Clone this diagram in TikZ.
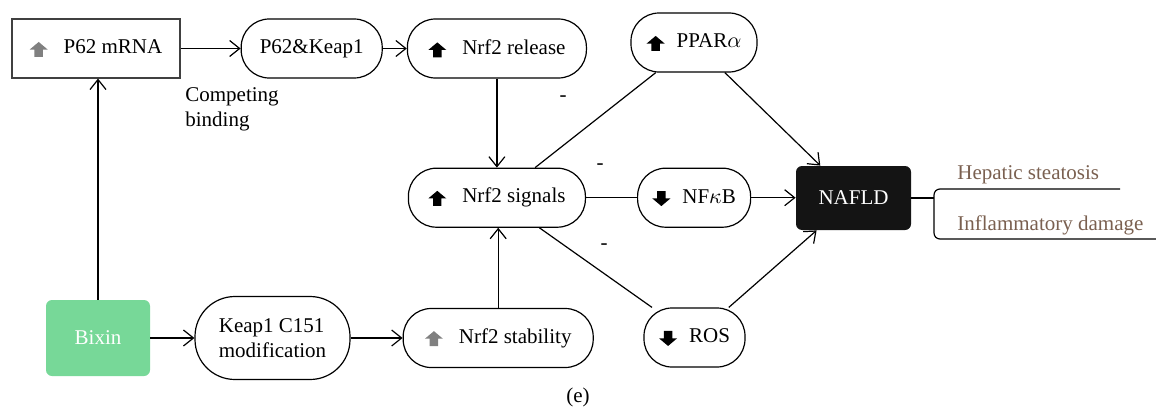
\documentclass[tikz,border=0pt]{standalone}
\usepackage{fontspec}
\setmainfont{Liberation Serif}
\usepackage{tikz}
\usetikzlibrary{arrows.meta, positioning, calc}
\definecolor{bixingreen}{RGB}{119,216,152}
\definecolor{outcomebrown}{RGB}{122,96,80}
\definecolor{icongray}{RGB}{128,128,128}
\newcommand{\upicon}[1][black]{\tikz[baseline=1.5pt]\fill[#1, sharp corners] (-2.1pt,0pt) -- (-2.1pt,3.7pt) -- (-4.5pt,3.7pt) -- (0pt,7.5pt) -- (4.5pt,3.7pt) -- (2.1pt,3.7pt) -- (2.1pt,0pt) -- cycle;}
\newcommand{\downicon}[1][black]{\tikz[baseline=1.5pt]\fill[#1, sharp corners] (-2.1pt,7.5pt) -- (-2.1pt,3.8pt) -- (-4.5pt,3.8pt) -- (0pt,0pt) -- (4.5pt,3.8pt) -- (2.1pt,3.8pt) -- (2.1pt,7.5pt) -- cycle;}
\tikzset{
  pill/.style={rectangle, rounded corners=14pt, draw, line width=0.6pt, minimum height=29.5pt, text centered, inner sep=2pt}, % rounded boxes
  plainbox/.style={rectangle, draw=black!75, line width=0.6pt, minimum width=84pt, minimum height=29.5pt},
  drugbox/.style={rectangle, rounded corners=3pt, fill=bixingreen, text=white, minimum width=52pt, minimum height=38pt},
  diseasebox/.style={rectangle, rounded corners=3pt, fill=black!92, text=white, minimum width=57.5pt, minimum height=32pt},
  outcome/.style={text=outcomebrown, anchor=base west, inner sep=0pt},
  minus/.style={inner sep=0pt},
  flow/.style={->, line width=0.6pt},
  link/.style={line width=0.6pt}
}

\begin{document}
\begin{tikzpicture}[x=0.5pt, y=-0.5pt, >={Straight Barb[length=5pt, width=8pt]}, font=\fontsize{10.5}{12.5}\selectfont]
    \useasboundingbox (0,0) rectangle (1156,412);

    % Nodes
    \node [plainbox] (p62mrna) at (96,48.5) {\upicon[icongray]\hspace{8pt}P62 mRNA};
    \node [pill, minimum width=70.5pt, right=30pt of p62mrna] (p62keap) {P62\&Keap1};
    \node [pill, minimum width=89.5pt, right=12pt of p62keap] (release) {\upicon\hspace{8pt}Nrf2 release};
    \node [pill, minimum width=88.5pt, below=44.5pt of release] (signals) {\upicon\hspace{8pt}Nrf2 signals};
    \node [pill, minimum width=63pt] (ppar) at (694,42.5) {\upicon\hspace{6pt}PPAR$\alpha$};
    \node [pill, minimum width=56.5pt, right=25.5pt of signals] (nfkb) {\downicon\hspace{6pt}NF$\kappa$B};
    \node [diseasebox] (nafld) at (853.5,198) {NAFLD};
    \node [drugbox] (bixin) at (98,338) {Bixin};
    \node [pill, rounded corners=20pt, minimum width=77.5pt, minimum height=41.5pt, align=left, right=22pt of bixin] (keapmod) {Keap1 C151\\modification};
    \node [pill, minimum width=95pt, right=26pt of keapmod] (stability) {\upicon[icongray]\hspace{8pt}Nrf2 stability};
    \node [pill, minimum width=50.5pt] (ros) at (694.5,337.5) {\downicon\hspace{6pt}ROS};

    \node [outcome] (steatosis) at (957,179) {Hepatic steatosis};
    \node [outcome] (damage) at (957,230) {Inflammatory damage};
    \node [align=left, anchor=west, inner sep=0pt] (competing) at (185,109.5) {Competing\\binding};
    \node [minus] (minus1) at (563,99) {-};
    \node [minus] (minus2) at (600,167) {-};
    \node [minus] (minus3) at (604,247) {-};
    \node (caption) at (578,397) {(e)};

    \coordinate (fork) at (934,198);
    \coordinate (forktop) at (1120,189);
    \coordinate (forkbottom) at (1156,239);

    % Edges
    \draw[flow] (p62mrna) -- (p62keap);
    \draw[flow] (p62keap) -- (release);
    \draw[flow] (release) -- (signals);
    \draw[flow] (bixin) -- (bixin |- p62mrna.south);
    \draw[flow] (bixin) -- (keapmod);
    \draw[flow] (keapmod) -- (stability);
    \draw[flow] (stability.north) -- (stability.north |- signals.south);
    \draw[link] (signals) -- (ppar);
    \draw[link] (signals) -- (nfkb);
    \draw[link] (signals) -- (ros);
    \draw[flow] (ppar) -- (nafld);
    \draw[flow] (nfkb) -- (nfkb -| nafld.west);
    \draw[flow] (ros) -- (nafld);
    \draw[link] (nafld.east |- fork) -- (fork);
    \draw[link, rounded corners=3pt] (forktop) -| (fork |- forkbottom) -- (forkbottom);

\end{tikzpicture}
\end{document}
